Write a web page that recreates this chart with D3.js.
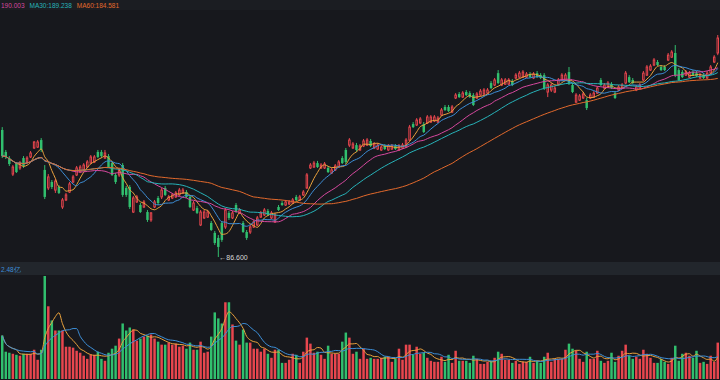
<!DOCTYPE html>
<html>
<head>
<meta charset="utf-8">
<script src="https://cdn.jsdelivr.net/npm/d3@7"></script>
<style>
  html, body { margin: 0; padding: 0; background: #17181d; }
  svg { display: block; }
</style>
</head>
<body>
<svg id="chart" width="720" height="380"></svg>
<script>
// daily OHLC (oldest first)
const opens = [
  157.2,145.0,141.6,132.7,138.3,136.1,141.6,139.4,142.2,147.2,
  147.7,151.6,135.0,125.0,128.3,123.8,125.5,114.4,118.3,122.7,
  128.3,132.2,133.8,135.0,136.6,138.8,139.4,145.0,145.0,141.6,
  142.7,138.8,132.2,132.2,137.7,125.0,125.5,111.6,117.2,115.5,
  114.4,111.6,107.2,114.4,119.4,120.0,125.0,118.3,119.4,120.0,
  121.1,122.2,122.7,120.0,112.7,113.8,104.4,108.3,108.8,105.5,
  100.0,97.2,105.5,103.3,111.1,108.3,115.5,111.1,105.5,100.5,
  100.5,103.3,104.4,108.8,110.0,112.2,108.3,106.1,114.4,116.6,
  115.5,116.1,116.6,120.0,118.3,121.1,125.0,136.1,136.6,138.8,
  136.1,136.1,136.1,133.3,135.0,136.6,141.6,146.1,148.8,147.2,
  148.8,146.1,148.3,148.8,151.1,147.2,146.6,146.1,148.3,146.1,
  146.6,148.3,146.1,147.2,147.7,151.6,160.5,160.0,161.1,160.5,
  161.1,161.6,162.2,161.6,165.5,170.0,170.0,167.2,175.0,177.2,
  175.5,178.3,177.7,176.6,175.0,176.6,177.2,177.7,183.3,182.2,
  188.8,182.2,182.7,182.7,184.4,186.1,186.6,186.6,186.6,188.3,
  186.1,188.8,187.7,187.7,178.3,179.4,178.3,182.7,185.0,185.0,
  189.4,182.2,172.7,173.8,175.0,173.8,175.0,175.5,177.7,185.0,
  180.5,181.1,182.7,177.7,179.4,180.5,183.3,186.6,185.0,179.4,
  180.5,185.0,187.7,190.5,193.3,195.0,192.2,192.2,196.1,197.7,
  200.0,190.5,189.4,187.7,186.6,189.4,188.8,186.1,187.7,186.1,
  188.8,195.0,200.0
];
const closes = [
  142.7,142.2,138.3,136.6,133.8,138.8,137.2,141.6,144.4,150.5,
  150.5,146.1,120.0,131.1,125.5,128.8,122.2,118.3,121.1,127.2,
  131.1,136.1,136.6,137.7,139.4,142.2,142.2,142.2,142.7,144.4,
  136.6,132.2,128.3,135.0,121.1,121.1,114.4,119.4,120.0,111.6,
  117.2,107.2,111.1,117.2,116.6,123.8,121.1,120.0,121.1,122.2,
  123.8,123.8,120.0,114.4,116.6,111.1,111.6,111.6,111.6,101.6,
  94.4,92.2,96.1,112.7,108.3,111.1,111.6,112.7,100.5,97.2,
  103.3,106.1,108.3,111.1,112.7,110.0,111.1,110.0,112.7,115.5,
  117.2,117.2,118.3,118.3,120.0,122.7,132.2,137.7,138.8,136.6,
  137.7,138.3,133.8,135.0,137.2,139.4,138.8,139.4,151.6,149.4,
  146.1,148.3,151.1,151.6,148.3,149.4,148.8,147.7,146.6,148.3,
  148.3,146.6,148.3,148.8,151.6,158.8,158.8,162.7,163.3,156.1,
  164.4,164.4,164.4,163.8,168.3,168.3,167.7,170.0,176.6,175.5,
  177.7,176.6,175.5,171.1,177.2,178.8,179.4,179.4,180.5,185.0,
  183.3,185.0,185.0,185.0,182.2,187.7,188.8,189.4,188.3,186.6,
  188.3,186.6,186.1,180.5,182.2,182.2,180.5,185.0,187.7,187.7,
  183.3,178.3,176.6,176.1,177.2,169.4,176.6,177.7,180.5,182.2,
  182.2,183.3,180.5,175.0,181.1,182.2,188.8,183.8,183.3,181.1,
  182.2,188.8,192.2,192.7,196.1,193.3,190.5,190.5,198.8,200.5,
  187.7,185.0,186.6,189.4,188.8,187.7,187.2,187.7,186.1,188.8,
  192.2,197.7,208.3
];
const highs = [
  158.8,146.1,142.7,137.7,139.4,140.0,142.7,142.7,145.5,151.1,
  151.6,152.7,137.7,132.7,129.4,130.0,126.6,119.4,122.2,128.3,
  132.2,137.2,137.7,138.8,140.5,143.3,143.3,146.1,146.1,146.1,
  143.8,139.4,133.3,136.1,138.8,126.1,126.6,120.5,121.1,116.6,
  118.3,112.7,111.6,118.3,120.5,125.0,126.1,121.1,122.2,123.3,
  125.0,125.0,123.8,121.1,117.7,115.0,112.7,112.7,112.7,106.6,
  101.1,98.8,106.6,113.8,112.2,112.2,116.6,113.8,106.6,101.6,
  104.4,107.2,109.4,112.2,113.8,113.3,112.2,111.1,115.5,117.7,
  118.3,118.3,119.4,121.1,121.1,123.8,133.3,138.8,140.0,140.0,
  138.8,139.4,137.2,136.1,138.3,140.5,142.7,147.2,152.7,150.5,
  150.0,149.4,152.2,152.7,152.2,150.5,150.0,148.8,149.4,149.4,
  149.4,149.4,149.4,150.0,152.7,160.0,161.6,163.8,164.4,161.6,
  165.5,165.5,165.5,165.0,169.4,171.1,171.1,171.1,177.7,178.3,
  178.8,179.4,178.8,177.7,178.3,180.0,180.5,180.5,184.4,186.1,
  190.5,186.1,186.1,186.1,185.5,188.8,190.0,190.5,189.4,189.4,
  189.4,190.0,188.8,188.8,183.3,183.3,181.6,186.1,188.8,188.8,
  192.2,183.3,177.7,177.2,178.3,175.0,177.7,178.8,181.6,186.1,
  183.3,184.4,183.8,178.8,182.2,183.3,190.0,187.7,186.1,182.2,
  183.3,190.0,193.3,193.8,197.2,196.1,193.3,193.3,200.0,201.6,
  204.4,191.6,190.5,190.5,190.0,190.5,190.0,188.8,188.8,190.0,
  193.3,198.8,210.0
];
const lows = [
  141.6,141.1,137.2,131.6,133.3,135.0,136.1,138.8,141.6,146.6,
  147.2,145.0,118.8,123.8,124.4,122.2,121.6,113.3,117.7,122.2,
  127.7,131.6,133.3,134.4,136.1,138.3,138.8,141.6,141.6,141.1,
  136.1,131.6,127.2,131.1,120.0,120.0,113.3,111.1,116.6,111.1,
  113.8,106.1,106.1,113.8,115.5,118.8,120.5,117.7,118.8,119.4,
  120.5,121.6,119.4,113.8,112.2,110.5,103.8,107.7,108.3,101.1,
  93.3,86.6,95.0,102.2,107.2,107.7,111.1,110.5,100.0,96.1,
  99.4,102.7,103.8,108.3,109.4,109.4,107.7,105.5,112.2,115.0,
  115.0,115.5,116.1,117.7,117.7,120.5,124.4,135.5,136.1,136.1,
  135.5,135.5,133.3,132.7,134.4,136.1,138.3,138.3,147.7,146.6,
  145.0,145.5,147.7,148.3,147.7,146.6,146.1,145.5,146.1,145.5,
  146.1,146.1,145.5,146.6,147.2,151.1,158.3,159.4,160.5,155.5,
  160.5,161.1,161.6,161.1,165.0,167.7,167.2,166.6,174.4,175.0,
  175.0,176.1,175.0,170.5,174.4,176.1,176.6,177.2,180.0,181.6,
  182.7,181.6,182.2,182.2,181.6,185.5,186.1,186.1,186.1,186.1,
  185.5,186.1,185.5,179.4,175.5,178.3,177.7,182.2,184.4,184.4,
  182.2,177.7,172.2,173.3,174.4,168.3,174.4,175.0,177.2,181.6,
  180.0,180.5,180.0,174.4,178.8,180.0,182.7,183.3,182.7,178.8,
  180.0,184.4,187.2,190.0,192.7,192.7,190.0,190.0,195.5,197.2,
  186.6,184.4,186.1,187.2,186.1,187.2,186.6,185.5,185.5,185.5,
  188.3,194.4,198.8
];
// volume, 亿
const volumes = [
  5.06,3.18,3.06,2.94,2.82,2.71,2.94,2.94,2.94,3.41,
  2.24,3.41,12.0,8.47,6.82,5.65,5.65,5.65,3.76,3.76,
  3.65,3.29,3.06,2.71,2.35,2.82,2.82,3.18,2.35,2.12,
  3.06,3.53,3.88,4.71,6.47,5.65,6.0,5.76,4.47,4.71,
  4.94,5.06,5.18,4.71,4.35,4.0,4.0,4.24,4.0,4.12,
  3.76,3.88,3.53,4.24,3.41,3.41,4.35,3.06,3.18,4.94,
  7.76,7.06,6.47,8.94,8.94,6.35,4.47,4.0,5.76,4.24,
  4.24,3.53,3.53,3.18,3.53,2.94,2.47,3.41,3.41,1.88,
  1.88,2.24,2.94,2.82,1.88,3.18,4.82,4.12,3.06,3.18,
  2.82,2.35,3.88,2.94,2.94,2.94,4.35,5.41,4.82,2.94,
  3.18,2.35,3.53,2.35,2.47,2.35,2.35,2.47,2.59,2.59,
  2.0,2.35,3.53,2.24,4.0,4.0,2.82,3.76,2.94,3.06,
  2.47,2.12,2.0,2.0,2.59,2.0,2.82,1.88,3.29,2.12,
  2.12,2.12,1.88,2.71,2.35,1.76,1.76,2.0,2.12,2.47,
  3.18,2.94,2.24,2.24,1.88,2.12,1.76,2.0,2.0,2.59,
  1.88,2.12,1.88,2.59,3.06,2.0,2.35,2.35,2.35,3.41,
  4.12,3.53,3.29,2.35,2.0,3.18,2.35,2.35,3.29,2.12,
  1.88,2.12,3.06,2.0,2.71,3.29,4.0,2.71,2.35,2.59,
  2.35,3.41,2.94,2.47,1.88,1.88,2.35,2.0,1.76,2.47,
  3.88,2.12,2.94,3.06,2.71,2.47,3.29,1.88,2.0,1.76,
  2.71,2.0,4.24
];

const maPeriods = [5, 10, 20, 30, 60];
const maColors = ["#eba23c", "#3d8fd8", "#d6489e", "#27b3b9", "#e2692c"];
const volMaPeriods = [5, 10];
const volMaColors = ["#eba23c", "#3d8fd8"];
// the header row is scrolled: only the tail of the MA20 entry shows
const headerLabels = [
  { text: "190.003", color: "#d6489e" },
  { text: "MA30:189.238", color: "#27b3b9" },
  { text: "MA60:184.581", color: "#e2692c" },
];
const volumeLabel = "2.48亿";

const UP = "#e8464e";
const DOWN = "#31bf6e";
const BG = "#17181d";
const FONT = "'Liberation Sans', Arial, sans-serif";

const svg = d3.select("#chart");
const n = closes.length;

svg.append("rect").attr("width", 720).attr("height", 380).attr("fill", BG);
// header strip and the strip above the volume pane
svg.append("rect").attr("x", 0).attr("y", 0).attr("width", 720).attr("height", 10).attr("fill", "#1b1d22");
svg.append("rect").attr("x", 0).attr("y", 262).attr("width", 720).attr("height", 13).attr("fill", "#22262c");

const x = d3.scaleBand().domain(d3.range(n)).range([1, 719]).paddingInner(0.3);
const bw = x.bandwidth();
const cx = (i) => x(i) + bw / 2;

const y = d3.scaleLinear()
  .domain([d3.min(lows), d3.max(highs)])
  .range([257, 35]);

const yVol = d3.scaleLinear()
  .domain([0, d3.max(volumes)])
  .range([379, 276]);

function movingAverage(values, period) {
  return values.map((_, i) => d3.mean(values.slice(Math.max(0, i - period + 1), i + 1)));
}

const candles = d3.range(n).map((i) => ({
  i, o: opens[i], c: closes[i], h: highs[i], l: lows[i], v: volumes[i], up: closes[i] >= opens[i],
}));

// --- price pane ---
const priceLayer = svg.append("g");

priceLayer.selectAll("line.wick")
  .data(candles)
  .join("line")
  .attr("class", "wick")
  .attr("x1", (d) => cx(d.i)).attr("x2", (d) => cx(d.i))
  .attr("y1", (d) => y(d.h)).attr("y2", (d) => y(d.l))
  .attr("stroke", (d) => (d.up ? UP : DOWN))
  .attr("stroke-width", 1);

priceLayer.selectAll("rect.body")
  .data(candles)
  .join("rect")
  .attr("class", "body")
  .attr("x", (d) => (d.up ? x(d.i) + 0.5 : x(d.i)))
  .attr("width", (d) => (d.up ? bw - 1 : bw))
  .attr("y", (d) => y(Math.max(d.o, d.c)))
  .attr("height", (d) => Math.max(1, Math.abs(y(d.o) - y(d.c))))
  .attr("fill", (d) => (d.up ? BG : DOWN))
  .attr("stroke", (d) => (d.up ? UP : "none"))
  .attr("stroke-width", 1);

const priceLine = d3.line().x((d, i) => cx(i)).y((d) => y(d)).curve(d3.curveMonotoneX);
maPeriods.forEach((p, k) => {
  priceLayer.append("path")
    .attr("d", priceLine(movingAverage(closes, p)))
    .attr("fill", "none")
    .attr("stroke", maColors[k])
    .attr("stroke-width", 1);
});

// lowest low marker
const lowIdx = d3.minIndex(lows);
priceLayer.append("text")
  .attr("x", cx(lowIdx) + 1)
  .attr("y", y(lows[lowIdx]) + 3)
  .attr("fill", "#d8d8d8")
  .attr("font-family", FONT)
  .attr("font-size", 7)
  .text("←" + d3.format(".3f")(lows[lowIdx]));

// --- volume pane ---
const volLayer = svg.append("g");
volLayer.selectAll("rect.vol")
  .data(candles)
  .join("rect")
  .attr("class", "vol")
  .attr("x", (d) => x(d.i))
  .attr("width", bw)
  .attr("y", (d) => yVol(d.v))
  .attr("height", (d) => yVol(0) - yVol(d.v))
  .attr("fill", (d) => (d.up ? UP : DOWN));

const volLine = d3.line().x((d, i) => cx(i)).y((d) => yVol(d)).curve(d3.curveMonotoneX);
volMaPeriods.forEach((p, k) => {
  volLayer.append("path")
    .attr("d", volLine(movingAverage(volumes, p)))
    .attr("fill", "none")
    .attr("stroke", volMaColors[k])
    .attr("stroke-width", 1);
});

// --- labels ---
const header = svg.append("text")
  .attr("x", 1)
  .attr("y", 7.5)
  .attr("font-family", FONT)
  .attr("font-size", 6.5);
headerLabels.forEach((lab, k) => {
  header.append("tspan")
    .attr("dx", k === 0 ? 0 : 5)
    .attr("fill", lab.color)
    .text(lab.text);
});

svg.append("text")
  .attr("x", 1)
  .attr("y", 271.5)
  .attr("fill", "#3d8fd8")
  .attr("font-family", FONT)
  .attr("font-size", 6.5)
  .text(volumeLabel);
</script>
</body>
</html>
